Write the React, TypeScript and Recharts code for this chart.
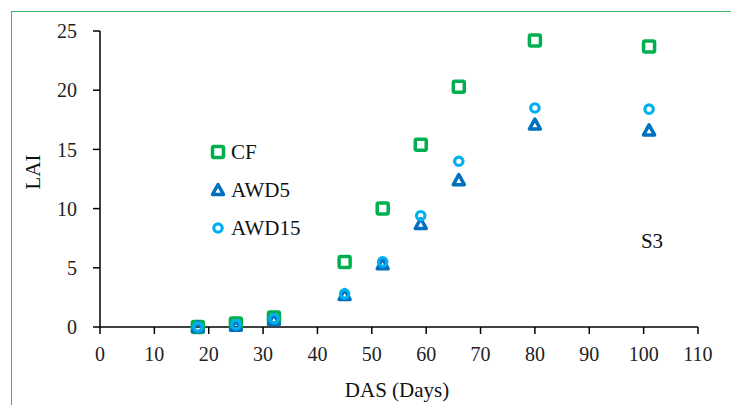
import { ScatterChart, Scatter, XAxis, YAxis } from "recharts";

const days = [18, 25, 32, 45, 52, 59, 66, 80, 101];
const cfValues = [0, 0.3, 0.8, 5.5, 10.0, 15.4, 20.3, 24.2, 23.7];
const awd5Values = [0, 0.1, 0.6, 2.7, 5.3, 8.7, 12.4, 17.1, 16.6];
const awd15Values = [0, 0.2, 0.7, 2.8, 5.5, 9.4, 14.0, 18.5, 18.4];
const xTicks = [0, 10, 20, 30, 40, 50, 60, 70, 80, 90, 100, 110];
const yTicks = [0, 5, 10, 15, 20, 25];

const GREEN = "#00B050";
const DARK_BLUE = "#0070C0";
const LIGHT_BLUE = "#00B0F0";
const FONT = "'Liberation Serif', 'DejaVu Serif', serif";

const toPoints = (vals: number[]) => days.map((d, i) => ({ x: d, y: vals[i] }));

const Square = ({ cx, cy }: any) => (
  <rect x={cx - 5.5} y={cy - 5.5} width={11} height={11} rx={1.5} fill="none" stroke={GREEN} strokeWidth={3.5} />
);

const Triangle = ({ cx, cy }: any) => (
  <path
    d={`M${cx},${cy - 5.5} L${cx + 5.5},${cy + 4.5} L${cx - 5.5},${cy + 4.5} Z`}
    fill="none"
    stroke={DARK_BLUE}
    strokeWidth={3.5}
    strokeLinejoin="round"
  />
);

const Ring = ({ cx, cy }: any) => (
  <circle cx={cx} cy={cy} r={4.2} fill="none" stroke={LIGHT_BLUE} strokeWidth={3.2} />
);

const legendItems = [
  { name: "CF", Shape: Square },
  { name: "AWD5", Shape: Triangle },
  { name: "AWD15", Shape: Ring },
];

const LegendBox = () => (
  <div style={{ position: "absolute", left: 208, top: 133, fontFamily: FONT, fontSize: 21, color: "#111" }}>
    {legendItems.map(({ name, Shape }) => (
      <div key={name} style={{ display: "flex", alignItems: "center", height: 38 }}>
        <svg width={22} height={18} style={{ display: "block" }}>
          <Shape cx={10} cy={9} />
        </svg>
        <span style={{ marginLeft: 1 }}>{name}</span>
      </div>
    ))}
  </div>
);

export default function App() {
  return (
    <div style={{ position: "absolute", left: 0, top: 0, width: 731, height: 405, overflow: "hidden", background: "#fff" }}>
      <div style={{ position: "absolute", left: 11, top: 11, width: 800, height: 500, border: "1px solid #3CB371" }} />
      <ScatterChart width={731} height={405} margin={{ top: 31, right: 33, bottom: 38, left: 40 }}>
        <XAxis
          type="number"
          dataKey="x"
          domain={[0, 110]}
          ticks={xTicks}
          interval={0}
          height={40}
          tickSize={7}
          tickMargin={13}
          axisLine={{ stroke: "#000", strokeWidth: 1.5 }}
          tickLine={{ stroke: "#000", strokeWidth: 1.5 }}
          tick={{ fill: "#222", fontSize: 20, fontFamily: FONT }}
        />
        <YAxis
          type="number"
          dataKey="y"
          domain={[0, 25]}
          ticks={yTicks}
          interval={0}
          width={60}
          tickSize={7}
          tickMargin={16}
          axisLine={{ stroke: "#000", strokeWidth: 1.5 }}
          tickLine={{ stroke: "#000", strokeWidth: 1.5 }}
          tick={{ fill: "#222", fontSize: 20, fontFamily: FONT }}
        />
        <Scatter name="CF" data={toPoints(cfValues)} shape={<Square />} isAnimationActive={false} />
        <Scatter name="AWD5" data={toPoints(awd5Values)} shape={<Triangle />} isAnimationActive={false} />
        <Scatter name="AWD15" data={toPoints(awd15Values)} shape={<Ring />} isAnimationActive={false} />
      </ScatterChart>
      <LegendBox />
      <div style={{ position: "absolute", left: 33, top: 172, transform: "translate(-50%, -50%) rotate(-90deg)", fontFamily: FONT, fontSize: 21, color: "#111", whiteSpace: "nowrap" }}>
        LAI
      </div>
      <div style={{ position: "absolute", left: 397, top: 390, transform: "translate(-50%, -50%)", fontFamily: FONT, fontSize: 21, color: "#111", whiteSpace: "nowrap" }}>
        DAS (Days)
      </div>
      <div style={{ position: "absolute", left: 652, top: 241, transform: "translate(-50%, -50%)", fontFamily: FONT, fontSize: 21, color: "#111", whiteSpace: "nowrap" }}>
        S3
      </div>
    </div>
  );
}
